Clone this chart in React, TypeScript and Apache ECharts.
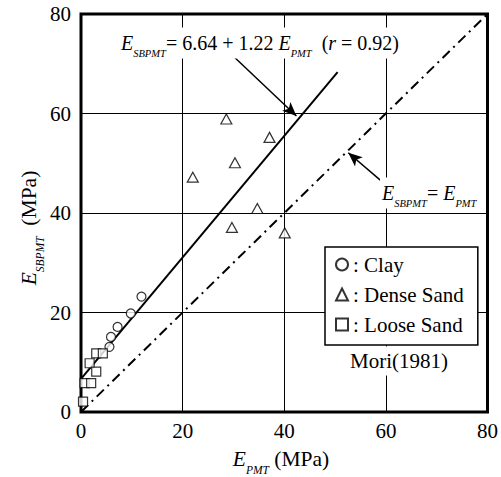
import React, { useEffect, useRef } from 'react';
import * as echarts from 'echarts';

// ---- data ----
const clayX = [11.9, 9.8, 7.2, 5.9, 5.6];
const clayY = [23.2, 19.8, 17.1, 15.1, 13.1];

const denseX = [28.6, 37.1, 30.3, 22.0, 34.7, 29.7, 40.1];
const denseY = [58.9, 55.2, 50.1, 47.2, 40.9, 37.1, 36.0];

const looseX = [3.0, 4.3, 1.7, 3.0, 0.7, 2.0, 0.4];
const looseY = [11.8, 11.8, 9.8, 8.1, 5.8, 5.8, 2.1];

// regression line E_SBPMT = 6.64 + 1.22 E_PMT (end points)
const regX = [0, 50.5];
const regY = [6.64, 68.3];

// identity line E_SBPMT = E_PMT
const idX = [0, 80];
const idY = [0, 80];

// annotation arrows: [fromX, fromY, toX, toY] in data units
const arrowReg = [30.3, 71.2, 42.4, 59.5];
const arrowId = [58.9, 46.6, 52.6, 52.1];

const axisMin = 0;
const axisMax = 80;
const axisStep = 20;

const seriesNames = ['Clay', 'Dense Sand', 'Loose Sand'];

const FONT = 'Liberation Serif';

const zip = (xs: number[], ys: number[]) => xs.map((x, i) => [x, ys[i]]);

export default function App() {
  const ref = useRef<HTMLDivElement>(null);

  useEffect(() => {
    if (!ref.current) return;
    const chart = echarts.init(ref.current, null, { renderer: 'svg' });

    const mkRich = (size: number, sub: number, lh: number) => ({
      e: { fontFamily: FONT, fontSize: size, fontStyle: 'italic', lineHeight: lh, color: '#000' },
      s: { fontFamily: FONT, fontSize: sub, fontStyle: 'italic', lineHeight: sub + 2, verticalAlign: 'bottom', color: '#000' },
      n: { fontFamily: FONT, fontSize: size, lineHeight: lh, color: '#000' },
    });
    const richEq: any = mkRich(20, 10.5, 31);
    const richAxis: any = mkRich(21.5, 11.5, 33);

    const symStyle = { color: '#fff', borderColor: '#000', borderWidth: 1.2 };

    const arrowLine = (a: number[]) => ({
      silent: true,
      symbol: ['none', 'arrow'],
      symbolSize: [9, 14],
      label: { show: false },
      lineStyle: { color: '#000', width: 1.5, type: 'solid' },
      data: [[{ coord: [a[0], a[1]] }, { coord: [a[2], a[3]] }]],
    });

    chart.setOption({
      animation: false,
      backgroundColor: '#fff',
      textStyle: { fontFamily: FONT },
      grid: {
        left: 81,
        top: 14,
        right: 11,
        bottom: 65,
        show: true,
        borderColor: '#000',
        borderWidth: 3,
        backgroundColor: 'transparent',
      },
      xAxis: {
        type: 'value',
        min: axisMin,
        max: axisMax,
        interval: axisStep,
        axisLine: { show: false },
        axisTick: { show: false },
        axisLabel: { color: '#000', fontFamily: FONT, fontSize: 21, margin: 8 },
        splitLine: { show: true, lineStyle: { color: '#000', width: 1 } },
      },
      yAxis: {
        type: 'value',
        min: axisMin,
        max: axisMax,
        interval: axisStep,
        axisLine: { show: false },
        axisTick: { show: false },
        axisLabel: { color: '#000', fontFamily: FONT, fontSize: 21, margin: 10 },
        splitLine: { show: true, lineStyle: { color: '#000', width: 1 } },
      },
      legend: {
        data: seriesNames,
        orient: 'vertical',
        left: 325,
        top: 247,
        padding: [7, 14, 10, 10],
        itemGap: 9,
        itemWidth: 12,
        itemHeight: 12,
        backgroundColor: '#fff',
        borderColor: '#000',
        borderWidth: 1.5,
        borderRadius: 0,
        formatter: (name: string) => ': ' + name,
        textStyle: { color: '#000', fontFamily: FONT, fontSize: 21 },
        selectedMode: false,
      },
      series: [
        {
          type: 'line',
          data: zip(regX, regY),
          showSymbol: false,
          lineStyle: { color: '#000', width: 2 },
          silent: true,
          z: 2,
          markLine: arrowLine(arrowReg),
        },
        {
          type: 'line',
          data: zip(idX, idY),
          showSymbol: false,
          lineStyle: { color: '#000', width: 2, type: [10, 5, 2, 5] },
          silent: true,
          z: 2,
          markLine: arrowLine(arrowId),
        },
        {
          name: seriesNames[0],
          type: 'scatter',
          symbol: 'circle',
          symbolSize: 9,
          itemStyle: symStyle,
          data: zip(clayX, clayY),
          z: 3,
        },
        {
          name: seriesNames[1],
          type: 'scatter',
          symbol: 'triangle',
          symbolSize: [11, 10],
          itemStyle: symStyle,
          data: zip(denseX, denseY),
          z: 3,
        },
        {
          name: seriesNames[2],
          type: 'scatter',
          symbol: 'rect',
          symbolSize: 9,
          itemStyle: symStyle,
          data: zip(looseX, looseY),
          z: 3,
        },
      ],
      graphic: [
        {
          type: 'text',
          x: 119,
          y: 43,
          z: 10,
          style: {
            text: '{e|E}{s|SBPMT}{n|= 6.64 + 1.22 }{e|E}{s|PMT}{n|  (}{e|r}{n| = 0.92)}',
            rich: richEq,
            fontFamily: FONT,
            align: 'left',
            verticalAlign: 'middle',
            backgroundColor: '#fff',
            padding: [0, 2, 0, 2],
          },
        },
        {
          type: 'text',
          x: 380,
          y: 193,
          z: 10,
          style: {
            text: '{e|E}{s|SBPMT}{n|= }{e|E}{s|PMT}',
            rich: richEq,
            fontFamily: FONT,
            align: 'left',
            verticalAlign: 'middle',
            backgroundColor: '#fff',
            padding: [0, 2, 0, 2],
          },
        },
        {
          type: 'text',
          x: 399,
          y: 361,
          z: 10,
          style: {
            text: 'Mori(1981)',
            fill: '#000',
            fontFamily: FONT,
            fontSize: 21,
            align: 'center',
            verticalAlign: 'middle',
            backgroundColor: '#fff',
            padding: [3, 3, 5, 3],
          },
        },
        {
          type: 'text',
          x: 281,
          y: 459,
          style: {
            text: '{e|E}{s|PMT}{n| (MPa)}',
            rich: richAxis,
            fontFamily: FONT,
            align: 'center',
            verticalAlign: 'middle',
          },
        },
        {
          type: 'text',
          x: 29,
          y: 228,
          rotation: Math.PI / 2,
          style: {
            text: '{e|E}{s|SBPMT}{n|  (MPa)}',
            rich: richAxis,
            fontFamily: FONT,
            align: 'center',
            verticalAlign: 'middle',
          },
        },
      ],
    });

    return () => chart.dispose();
  }, []);

  return (
    <div
      ref={ref}
      style={{ position: 'absolute', left: 0, top: 0, width: 501, height: 477 }}
    />
  );
}
